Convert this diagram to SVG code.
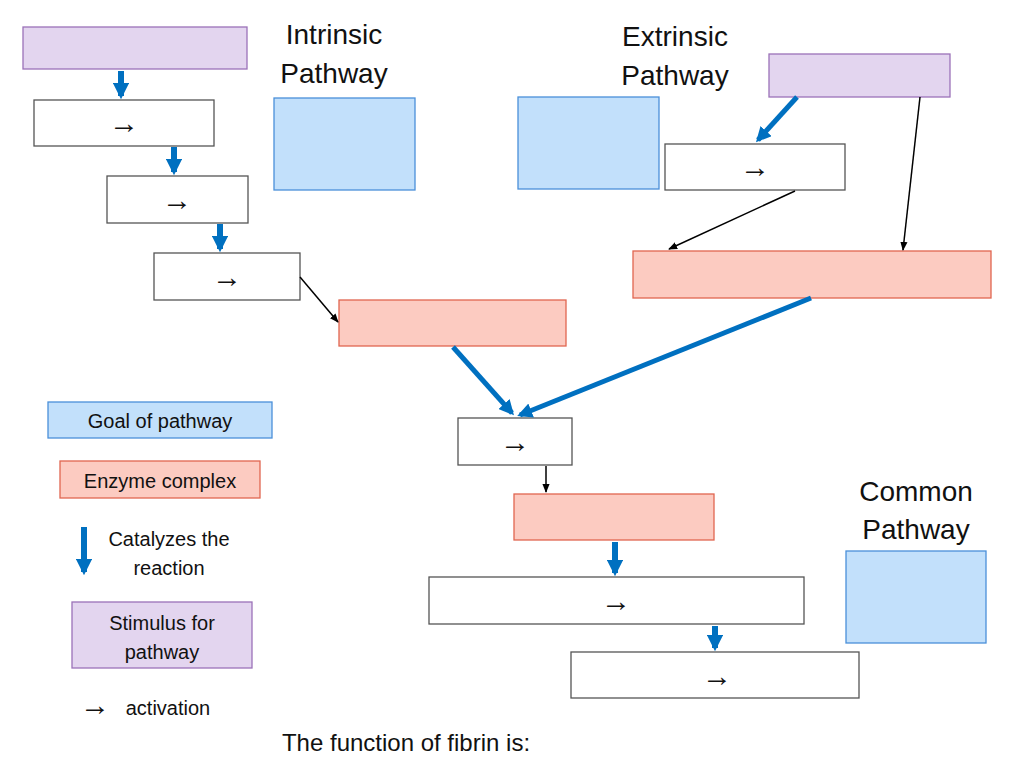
<svg xmlns="http://www.w3.org/2000/svg" width="1024" height="768" viewBox="0 0 1024 768">
<style>
text{font-family:"Liberation Sans",Arial,sans-serif;fill:#111;text-anchor:middle}
.t{font-size:28px}
.l{font-size:20px}
.a{font-size:30px}
.w{fill:#fff;stroke:#555;stroke-width:1.3}
.g{fill:#c2e0fb;stroke:#4a90d9;stroke-width:1.3}
.e{fill:#fccbc1;stroke:#e06650;stroke-width:1.3}
.p{fill:#e3d5ef;stroke:#9b72b8;stroke-width:1.3}
.b{stroke:#0070c0;fill:none}
.k{stroke:#000;stroke-width:1.5;fill:none;marker-end:url(#mk)}
</style>
<defs>
<marker id="mk" viewBox="0 0 10 10" refX="9" refY="5" markerWidth="6" markerHeight="6" orient="auto"><path d="M0,1 L10,5 L0,9z" fill="#000"/></marker>
<marker id="mb" viewBox="0 0 10 10" refX="8" refY="5" markerWidth="2.7" markerHeight="2.7" orient="auto" markerUnits="strokeWidth"><path d="M0,0 L10,5 L0,10z" fill="#0070c0"/></marker>
<marker id="mb2" viewBox="0 0 10 10" refX="8" refY="5" markerWidth="3" markerHeight="3" orient="auto" markerUnits="strokeWidth"><path d="M0,0 L10,5 L0,10z" fill="#0070c0"/></marker>
</defs>
<rect width="1024" height="768" fill="#fff"/>
<text class="t" x="334" y="44">Intrinsic</text>
<text class="t" x="334" y="83">Pathway</text>
<text class="t" x="675" y="46">Extrinsic</text>
<text class="t" x="675" y="85">Pathway</text>
<text class="t" x="916" y="501">Common</text>
<text class="t" x="916" y="539">Pathway</text>
<g id="stim1"><rect class="p" x="23" y="27" width="224" height="42"/></g>
<g id="i1"><rect class="w" x="34" y="100" width="180" height="46"/><text class="a" x="124" y="133">→</text></g>
<g id="i2"><rect class="w" x="107" y="176" width="141" height="47"/><text class="a" x="177" y="210">→</text></g>
<g id="i3"><rect class="w" x="154" y="253" width="146" height="47"/><text class="a" x="227" y="287">→</text></g>
<g id="goal1"><rect class="g" x="274" y="98" width="141" height="92"/></g>
<g id="enz1"><rect class="e" x="339" y="300" width="227" height="46"/></g>
<g id="goal2"><rect class="g" x="518" y="97" width="141" height="92"/></g>
<g id="stim2"><rect class="p" x="769" y="54" width="181" height="43"/></g>
<g id="x1"><rect class="w" x="665" y="144" width="180" height="46"/><text class="a" x="755" y="177">→</text></g>
<g id="enz2"><rect class="e" x="633" y="251" width="358" height="47"/></g>
<g id="c1"><rect class="w" x="458" y="418" width="114" height="47"/><text class="a" x="515" y="452">→</text></g>
<g id="enz3"><rect class="e" x="514" y="494" width="200" height="46"/></g>
<g id="c2"><rect class="w" x="429" y="577" width="375" height="47"/><text class="a" x="616" y="611">→</text></g>
<g id="c3"><rect class="w" x="571" y="652" width="288" height="46"/><text class="a" x="717" y="686">→</text></g>
<g id="goal3"><rect class="g" x="846" y="551" width="140" height="92"/></g>
<g id="connectors">
<line class="b" x1="121" y1="71" x2="121" y2="96" stroke-width="6" marker-end="url(#mb)"/>
<line class="b" x1="174" y1="147" x2="174" y2="172" stroke-width="6" marker-end="url(#mb)"/>
<line class="b" x1="220" y1="224" x2="220" y2="249" stroke-width="6" marker-end="url(#mb)"/>
<line class="b" x1="615" y1="542" x2="615" y2="573" stroke-width="6" marker-end="url(#mb)"/>
<line class="b" x1="715" y1="626" x2="715" y2="648" stroke-width="6" marker-end="url(#mb)"/>
<line class="b" x1="797" y1="97" x2="758" y2="140" stroke-width="5" marker-end="url(#mb2)"/>
<line class="b" x1="453" y1="347" x2="512" y2="413" stroke-width="5" marker-end="url(#mb2)"/>
<line class="b" x1="811" y1="298" x2="520" y2="415" stroke-width="5" marker-end="url(#mb2)"/>
<line class="k" x1="300" y1="277" x2="338" y2="322"/>
<line class="k" x1="795" y1="191" x2="669" y2="249"/>
<line class="k" x1="920" y1="97" x2="903" y2="250"/>
<line class="k" x1="546" y1="466" x2="546" y2="492"/>
</g>
<g id="legend">
<rect class="g" x="48" y="402" width="224" height="36"/><text class="l" x="160" y="428">Goal of pathway</text>
<rect class="e" x="60" y="461" width="200" height="37"/><text class="l" x="160" y="488">Enzyme complex</text>
<line class="b" x1="84" y1="527" x2="84" y2="572" stroke-width="6" marker-end="url(#mb)"/>
<text class="l" x="169" y="546">Catalyzes the</text>
<text class="l" x="169" y="575">reaction</text>
<rect class="p" x="72" y="602" width="180" height="66"/>
<text class="l" x="162" y="630">Stimulus for</text>
<text class="l" x="162" y="659">pathway</text>
<text class="a" x="95" y="715">→</text>
<text class="l" x="168" y="715">activation</text>
</g>
<text x="406" y="751" style="font-size:24px">The function of fibrin is:</text>
</svg>
